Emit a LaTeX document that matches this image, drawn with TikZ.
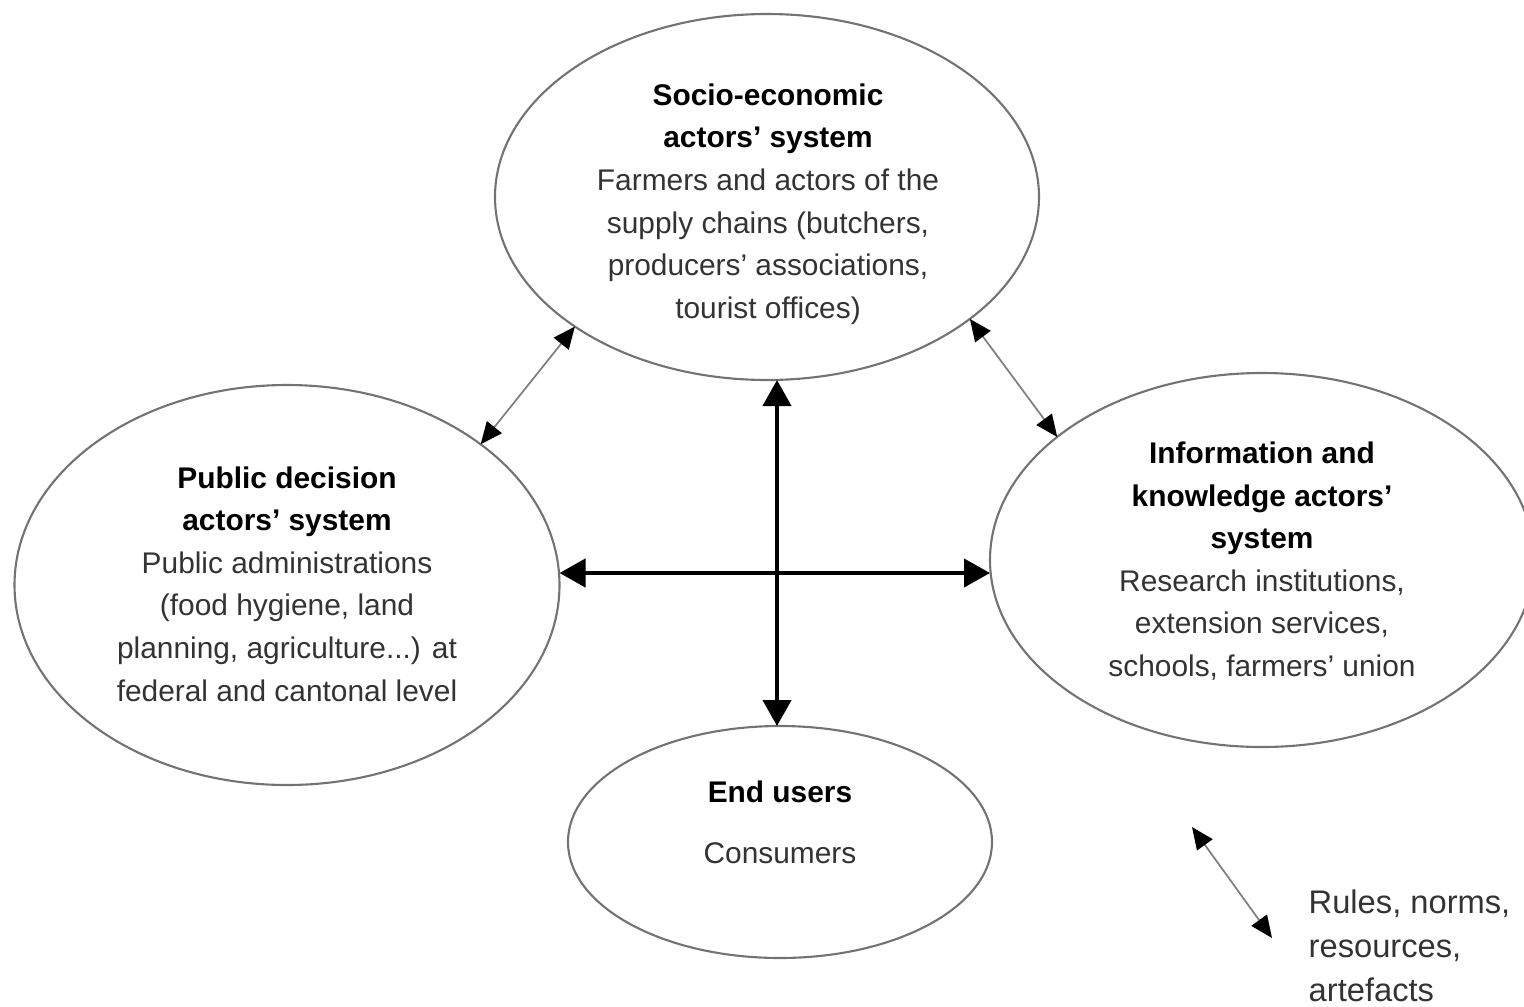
\documentclass[tikz,border=0pt]{standalone}
\usepackage{fontspec}
\setmainfont{Liberation Sans}
\usetikzlibrary{shapes.geometric,arrows.meta}

\begin{document}
\begin{tikzpicture}[
        sys/.style = {ellipse, draw = black!55, line width = 0.6pt, inner sep = 0pt, outer sep = 0pt},
        systxt/.style = {align = center, inner sep = 0pt, text = black!80, font = \fontsize{8.5}{12.1}\selectfont},
        rel/.style = {black!50, line width = 0.5pt,
            {Triangle[length = 0.22cm, width = 0.19cm, color = black]}-{Triangle[length = 0.22cm, width = 0.19cm, color = black]}},
        link/.style = {black, line width = 1.2pt,
            {Triangle[length = 0.26cm, width = 0.28cm]}-{Triangle[length = 0.26cm, width = 0.28cm]}}
    ]
        \useasboundingbox (0,0) rectangle (15.24,10.06);
        % the four actor systems
        \node [sys, minimum width = 5.44cm, minimum height = 3.66cm] (socio) at (7.67,8.09) {};
        \node [sys, minimum width = 5.45cm, minimum height = 4.00cm] (public) at (2.87,4.21) {};
        \node [sys, minimum width = 5.44cm, minimum height = 3.74cm] (info) at (12.62,4.46) {};
        \node [sys, minimum width = 4.24cm, minimum height = 2.32cm] (enduser) at (7.80,1.64) {};
        \node [systxt] (sociotxt) at (7.68,8.02) {\textcolor{black}{\textbf{Socio-economic}}\\
            \textcolor{black}{\textbf{actors' system}}\\
            Farmers and actors of the\\
            supply chains (butchers,\\
            producers' associations,\\
            tourist offices)};
        \node [systxt] (publictxt) at (2.87,4.22) {\textcolor{black}{\textbf{Public decision}}\\
            \textcolor{black}{\textbf{actors' system}}\\
            Public administrations\\
            (food hygiene, land\\
            planning, agriculture...) at\\
            federal and cantonal level};
        \node [systxt] (infotxt) at (12.62,4.45) {\textcolor{black}{\textbf{Information and}}\\
            \textcolor{black}{\textbf{knowledge actors'}}\\
            \textcolor{black}{\textbf{system}}\\
            Research institutions,\\
            extension services,\\
            schools, farmers' union};
        \node [systxt] (endusertxt) at (7.80,1.84) {\textcolor{black}{\textbf{End users}}\\[5.3pt]
            Consumers};
        % relations
        \coordinate (hub) at (7.77,4.33);
        \draw [link] (socio.south -| hub) -- (enduser.north -| hub);
        \draw [link] (public.east |- hub) -- (info.west |- hub);
        \draw [rel] (socio.214) -- (public.36);
        \draw [rel] (socio.329) -- (info.149);
        % key
        \coordinate (keytop) at (11.92,1.79);
        \coordinate (keybot) at (12.72,0.68);
        \draw [rel] (keytop) -- (keybot);
        \node [systxt, align = left, anchor = north west, font = \fontsize{9.3}{12.5}\selectfont] (keytxt) at (13.08,1.17) {Rules, norms,\\
            resources,\\
            artefacts};
    \end{tikzpicture}
\end{document}
